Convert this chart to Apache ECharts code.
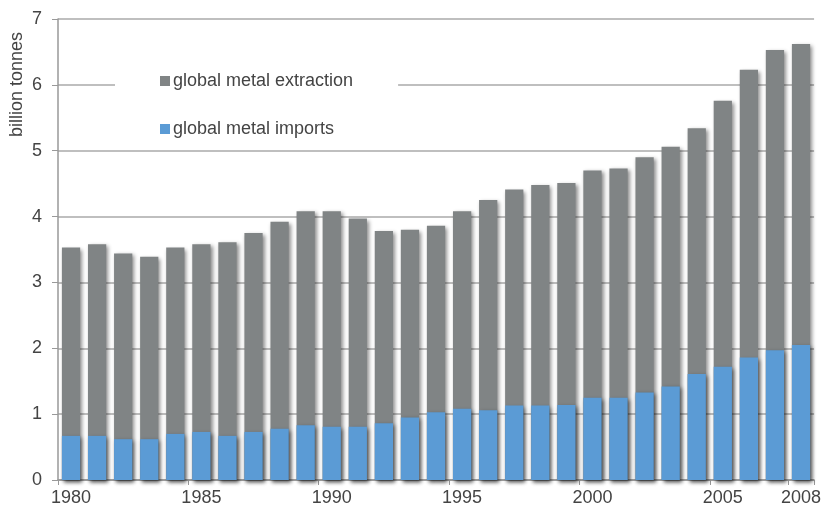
<!DOCTYPE html>
<html><head><meta charset="utf-8">
<script src="https://cdn.jsdelivr.net/npm/echarts@6/dist/echarts.min.js"></script>
<style>html,body{margin:0;padding:0;background:#fff}#c{width:824px;height:509px}</style>
</head><body><div id="c"></div>
<script>
const years = ['1980','1981','1982','1983','1984','1985','1986','1987','1988','1989','1990','1991','1992','1993','1994','1995','1996','1997','1998','1999','2000','2001','2002','2003','2004','2005','2006','2007','2008'];
const extraction = [3.53,3.58,3.44,3.39,3.53,3.58,3.61,3.75,3.92,4.08,4.08,3.97,3.78,3.80,3.86,4.08,4.25,4.41,4.48,4.51,4.70,4.73,4.90,5.06,5.34,5.76,6.23,6.53,6.62];
const imports = [0.67,0.67,0.62,0.62,0.70,0.73,0.67,0.73,0.78,0.83,0.81,0.81,0.86,0.95,1.03,1.08,1.06,1.13,1.13,1.14,1.25,1.25,1.33,1.42,1.61,1.72,1.86,1.97,2.05];
const yTicks = [0,1,2,3,4,5,6,7];
const seriesNames = ['global metal extraction','global metal imports'];

const font = 'Liberation Sans, Arial, Helvetica, sans-serif';
const chart = echarts.init(document.getElementById('c'), null, {renderer:'canvas'});
const shadow = {shadowColor:'rgba(0,0,0,0.45)', shadowBlur:4, shadowOffsetX:2, shadowOffsetY:2};
chart.setOption({
  animation:false,
  backgroundColor:'#fff',
  grid:{left:58, right:7, top:19, bottom:29},
  legend:{
    orient:'vertical', left:115, top:62,
    backgroundColor:'#fff', padding:[10,45,12,45], itemGap:30,
    itemWidth:10, itemHeight:10, icon:'rect',
    textStyle:{fontFamily:font, fontSize:18, color:'#444', padding:[0,0,0,-2]},
    data:seriesNames
  },
  graphic:[{type:'text', left:8, top:32, rotation:Math.PI/2,
    style:{text:'billion tonnes', font:'18px '+font, fill:'#444'}}],
  xAxis:{
    type:'category', data:years,
    axisLine:{lineStyle:{color:'#999', width:1.5}},
    axisTick:{show:true, alignWithLabel:false, length:5, lineStyle:{color:'#999'}},
    axisLabel:{interval:(i)=> i%5===0 || i===years.length-1, fontFamily:font, fontSize:18, color:'#444', margin:9},
    splitLine:{show:false}
  },
  yAxis:{
    type:'value', min:yTicks[0], max:yTicks[yTicks.length-1], interval:1,
    axisLine:{show:true, lineStyle:{color:'#999', width:1.5}},
    axisTick:{show:true, length:6, lineStyle:{color:'#999'}},
    axisLabel:{fontFamily:font, fontSize:18, color:'#444', margin:16},
    splitLine:{show:true, lineStyle:{color:'#aaa', width:1.5}}
  },
  series:[
    {name:seriesNames[0], type:'bar', data:extraction, barCategoryGap:'30%', barGap:'-100%',
      itemStyle:Object.assign({color:'#808485'}, shadow)},
    {name:seriesNames[1], type:'bar', data:imports, barCategoryGap:'30%', barGap:'-100%',
      itemStyle:Object.assign({color:'#5b9bd5'}, shadow)}
  ]
});
</script></body></html>
